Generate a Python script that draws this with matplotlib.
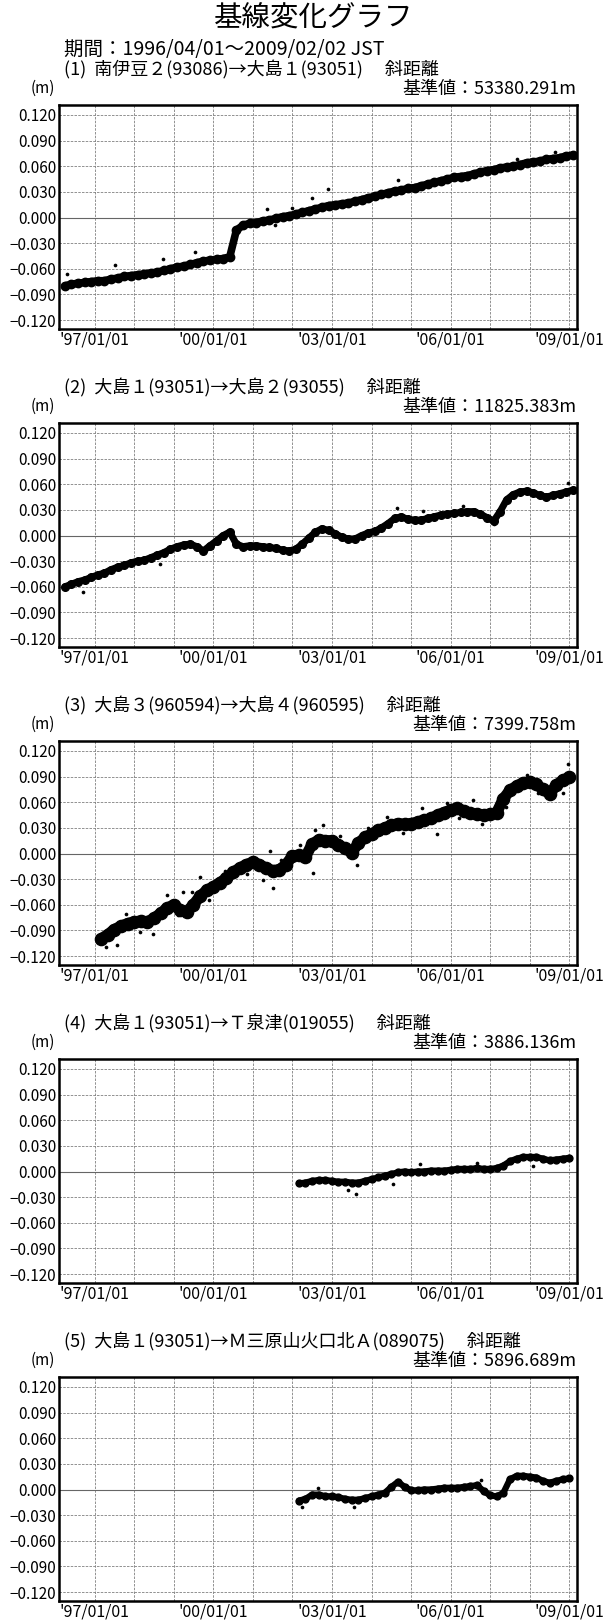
import matplotlib
matplotlib.use("Agg")
import matplotlib.pyplot as plt
import pandas as pd

plt.rcParams['font.family'] = ['Noto Sans CJK JP', 'DejaVu Sans']

W, H = 604, 1622

title = "基線変化グラフ"
period = "期間：1996/04/01～2009/02/02 JST"

names = [
    "(1)  南伊豆２(93086)→大島１(93051)　 斜距離",
    "(2)  大島１(93051)→大島２(93055)　 斜距離",
    "(3)  大島３(960594)→大島４(960595)　 斜距離",
    "(4)  大島１(93051)→Ｔ泉津(019055)　 斜距離",
    "(5)  大島１(93051)→Ｍ三原山火口北Ａ(089075)　 斜距離",
]
base = ["53380.291m", "11825.383m", "7399.758m", "3886.136m", "5896.689m"]

# first date of each series, values every two months (m)
starts = ["1996-04-01", "1996-04-01", "1997-03-01", "2002-03-01", "2002-03-01"]

s1 = [-0.080, -0.078, -0.077, -0.076, -0.075, -0.074, -0.074, -0.072, -0.071, -0.069,
      -0.068, -0.067, -0.066, -0.065, -0.064, -0.062, -0.060, -0.058, -0.057, -0.055,
      -0.053, -0.051, -0.050, -0.049, -0.048, -0.046, -0.015, -0.009, -0.007, -0.006,
      -0.004, -0.003, -0.001, 0.001, 0.002, 0.004, 0.006, 0.008, 0.010, 0.012,
      0.014, 0.015, 0.016, 0.017, 0.019, 0.021, 0.023, 0.025, 0.027, 0.029,
      0.031, 0.032, 0.034, 0.035, 0.037, 0.039, 0.041, 0.043, 0.045, 0.047,
      0.048, 0.049, 0.051, 0.053, 0.055, 0.056, 0.058, 0.059, 0.060, 0.062,
      0.064, 0.065, 0.066, 0.068, 0.069, 0.070, 0.072, 0.073]

s2 = [-0.060, -0.057, -0.054, -0.052, -0.049, -0.046, -0.044, -0.040, -0.037, -0.035,
      -0.032, -0.030, -0.029, -0.026, -0.023, -0.020, -0.016, -0.013, -0.011, -0.010,
      -0.013, -0.018, -0.012, -0.006, 0.000, 0.004, -0.010, -0.013, -0.012, -0.012,
      -0.013, -0.014, -0.015, -0.017, -0.018, -0.016, -0.010, -0.003, 0.004, 0.008,
      0.006, 0.002, -0.002, -0.004, -0.004, 0.000, 0.003, 0.005, 0.009, 0.014,
      0.020, 0.022, 0.019, 0.018, 0.018, 0.020, 0.022, 0.024, 0.025, 0.026,
      0.027, 0.028, 0.028, 0.025, 0.021, 0.017, 0.028, 0.042, 0.048, 0.051,
      0.052, 0.050, 0.047, 0.045, 0.047, 0.049, 0.051, 0.053]

s3 = [-0.100, -0.095, -0.089, -0.085, -0.082, -0.080, -0.079, -0.080, -0.076, -0.070,
      -0.064, -0.060, -0.066, -0.068, -0.060, -0.050, -0.043, -0.039, -0.034, -0.029,
      -0.022, -0.017, -0.013, -0.010, -0.013, -0.017, -0.020, -0.019, -0.013, -0.003,
      -0.002, -0.004, 0.011, 0.016, 0.015, 0.015, 0.010, 0.006, 0.001, 0.012,
      0.019, 0.023, 0.027, 0.030, 0.033, 0.035, 0.034, 0.035, 0.037, 0.039,
      0.041, 0.045, 0.048, 0.051, 0.053, 0.050, 0.047, 0.046, 0.045, 0.046,
      0.048, 0.064, 0.074, 0.079, 0.083, 0.084, 0.081, 0.075, 0.070, 0.080,
      0.086, 0.089]

s4 = [-0.014, -0.013, -0.011, -0.010, -0.010, -0.011, -0.012, -0.012, -0.013, -0.013,
      -0.011, -0.009, -0.007, -0.005, -0.003, -0.001, 0.000, -0.001, 0.000, 0.000,
      0.001, 0.001, 0.001, 0.002, 0.003, 0.003, 0.003, 0.004, 0.003, 0.003,
      0.004, 0.007, 0.012, 0.015, 0.017, 0.017, 0.017, 0.015, 0.013, 0.014,
      0.015, 0.016]

s5 = [-0.013, -0.011, -0.006, -0.006, -0.008, -0.008, -0.009, -0.011, -0.012, -0.012,
      -0.010, -0.008, -0.006, -0.004, 0.003, 0.009, 0.003, -0.001, -0.001, 0.000,
      0.000, 0.001, 0.002, 0.002, 0.002, 0.003, 0.004, 0.005, -0.002, -0.007,
      -0.008, -0.004, 0.012, 0.016, 0.016, 0.015, 0.014, 0.010, 0.008, 0.010,
      0.012, 0.013]

# stray daily points (decimal year, m)
o1_t = [1996.30, 1997.52, 1998.73, 1999.54, 2001.36, 2001.55, 2002.00, 2002.50, 2002.90, 2004.67, 2007.67, 2008.63]
o1_v = [-0.066, -0.056, -0.048, -0.040, 0.010, -0.009, 0.011, 0.023, 0.033, 0.044, 0.068, 0.077]
o2_t = [1996.70, 1998.65, 2004.63, 2005.30, 2006.30, 2007.10, 2008.96]
o2_v = [-0.066, -0.033, 0.032, 0.029, 0.034, 0.013, 0.062]
o3_t = [1997.30, 1997.56, 1997.80, 1998.15, 1998.48, 1998.82, 1999.10, 1999.24, 1999.45, 1999.66,
        1999.90, 2000.30, 2000.62, 2000.85, 2001.26, 2001.43, 2001.51, 2001.70, 2002.19, 2002.52,
        2002.57, 2002.76, 2003.20, 2003.62, 2003.90, 2004.38, 2004.80, 2005.27, 2005.64, 2005.90,
        2006.20, 2006.56, 2006.80, 2007.40, 2007.92, 2008.20, 2008.46, 2008.84, 2008.96]
o3_v = [-0.109, -0.107, -0.071, -0.092, -0.094, -0.048, -0.072, -0.045, -0.045, -0.027,
        -0.055, -0.021, -0.014, -0.024, -0.031, 0.003, -0.040, -0.008, 0.010, -0.023,
        0.027, 0.033, 0.021, -0.014, 0.030, 0.043, 0.024, 0.053, 0.023, 0.059,
        0.041, 0.063, 0.034, 0.055, 0.092, 0.071, 0.066, 0.071, 0.105]
o4_t = [2003.41, 2003.60, 2004.53, 2005.21, 2006.67, 2008.08]
o4_v = [-0.022, -0.026, -0.0145, 0.009, 0.010, 0.006]
o5_t = [2002.25, 2002.64, 2003.56, 2006.77]
o5_v = [-0.020, 0.002, -0.020, 0.011]

series = [s1, s2, s3, s4, s5]
outliers = [(o1_t, o1_v), (o2_t, o2_v), (o3_t, o3_v), (o4_t, o4_v), (o5_t, o5_v)]
band = [5.5, 5.0, 8.0, 4.5, 4.5]

yticks = [0.12, 0.09, 0.06, 0.03, 0.0, -0.03, -0.06, -0.09, -0.12]
years = list(range(1997, 2010))
xlabels = {1997: "'97/01/01", 2000: "'00/01/01", 2003: "'03/01/01", 2006: "'06/01/01", 2009: "'09/01/01"}


def decyear(d):
    return d.year + (d.dayofyear - 1) / (366 if d.is_leap_year else 365)


fig = plt.figure(figsize=(W / 100, H / 100), dpi=100)
fig.text(314 / W, 1 - 19 / H, title, fontsize=20.5, ha='center', va='center')
fig.text(64 / W, 1 - 49 / H, period, fontsize=14, ha='left', va='center')

tops = [105, 423, 741, 1059, 1377]
left, right, ph = 59, 577, 224

for i in range(5):
    top = tops[i]
    ax = fig.add_axes([left / W, 1 - (top + ph) / H, (right - left) / W, ph / H])
    dates = pd.date_range(starts[i], periods=len(series[i]), freq='2MS')
    t = [decyear(d) for d in dates]
    ax.plot(t, series[i], color='black', lw=band[i], solid_capstyle='round',
            solid_joinstyle='round', marker='o', ms=band[i] * 1.1, zorder=3)
    ax.scatter(outliers[i][0], outliers[i][1], s=7, color='black', zorder=3, linewidths=0)

    ax.set_xlim(1996.10, 2009.19)
    ax.set_ylim(-0.1305, 0.1317)
    ax.set_yticks(yticks)
    ax.set_yticklabels([f"{v:.3f}".replace('-', '−') for v in yticks], fontsize=11)
    ax.set_xticks(years)
    ax.set_xticklabels([xlabels.get(y, "") for y in years], fontsize=11.5)
    ax.tick_params(length=0, pad=2)
    ax.grid(True, color='#808080', lw=0.6, ls=(0, (3, 1.5)))
    ax.axhline(0, color='#666666', lw=0.8, zorder=2)
    for sp in ax.spines.values():
        sp.set_linewidth(1.8)
        sp.set_zorder(5)

    fig.text(64 / W, 1 - (top - 35) / H, names[i], fontsize=13, ha='left', va='center')
    fig.text(31 / W, 1 - (top - 17) / H, "(m)", fontsize=11, ha='left', va='center')
    fig.text(576 / W, 1 - (top - 16) / H, "基準値：" + base[i], fontsize=13, ha='right', va='center')

fig.savefig("out.png", dpi=100)
